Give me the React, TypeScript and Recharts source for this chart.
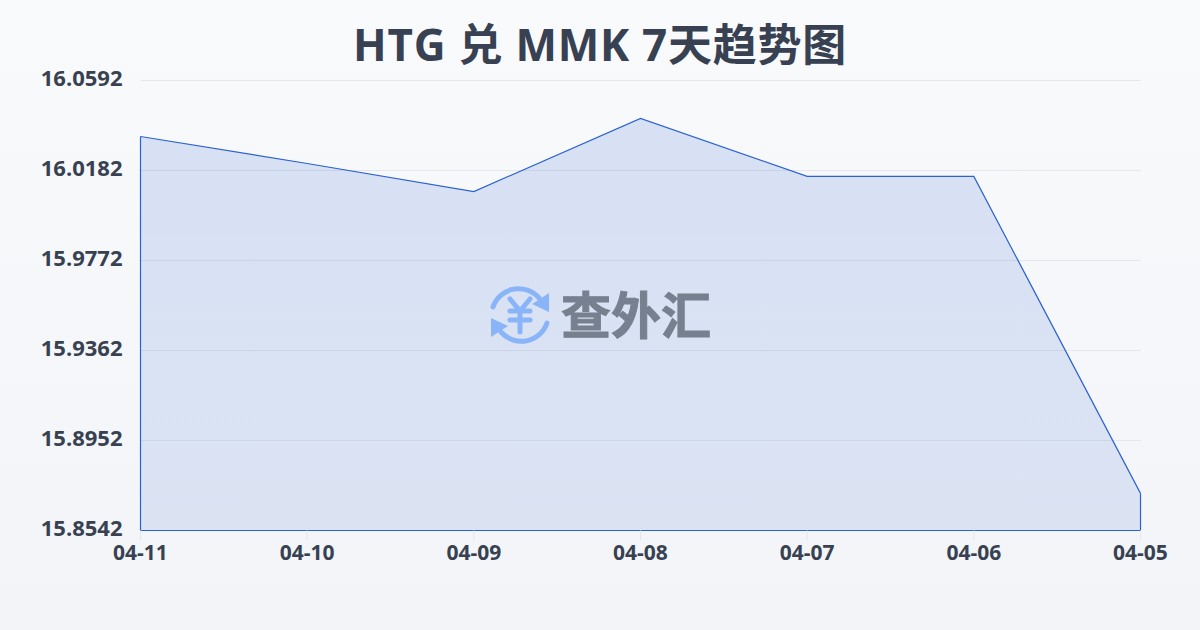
import { AreaChart, Area, XAxis, YAxis, CartesianGrid, ReferenceLine } from "recharts";

const dates = ["04-11", "04-10", "04-09", "04-08", "04-07", "04-06", "04-05"];
const rates = [16.0337, 16.0214, 16.0086, 16.0419, 16.0155, 16.0155, 15.8711];
const yTicks = [15.8542, 15.8952, 15.9362, 15.9772, 16.0182, 16.0592];

const FONT = "'Open Sans', 'Noto Sans CJK SC', sans-serif";
const BLUE = "#2c62d0";
const INK = "#374151";

const data = dates.map((date, i) => ({ date, rate: rates[i] }));

function Watermark() {
  return (
    <svg width={1200} height={630} style={{ position: "absolute", left: 0, top: 0 }}>
      <g fill="none" stroke="#8ab4f8" strokeWidth={5} strokeLinecap="round" strokeLinejoin="round">
        <path d="M493 307 A27 27 0 0 1 539 298" />
        <path d="M547 323 A27 27 0 0 1 501 332" />
        <path d="M510 299 L520 311 L530 299 M510 311 H530 M510 320 H530 M520 311 V332" />
      </g>
      <path d="M549 293 L549 312 L532 304 Z M491 337 L491 318 L508 326 Z" fill="#8ab4f8" />
      <text
        x={561}
        y={334}
        fontFamily="'Noto Sans CJK SC'"
        fontWeight={700}
        fontSize={50}
        fill="#76808f"
        stroke="#76808f"
        strokeWidth={1}
      >
        查外汇
      </text>
    </svg>
  );
}

export default function App() {
  return (
    <div
      style={{
        position: "absolute",
        left: 0,
        top: 0,
        width: 1200,
        height: 630,
        overflow: "hidden",
        background: "linear-gradient(180deg, #f9fafc 0%, #f2f4f7 100%)",
        fontFamily: FONT,
      }}
    >
      <div
        style={{
          position: "absolute",
          left: 0,
          top: 13,
          width: 1200,
          textAlign: "center",
          fontSize: 44,
          lineHeight: "62px",
          letterSpacing: 0.75,
          fontWeight: 700,
          color: INK,
        }}
      >
        HTG 兑 MMK 7天趋势图
      </div>
      <AreaChart
        width={1200}
        height={630}
        data={data}
        margin={{ top: 80.5, right: 59.5, bottom: 0, left: 0 }}
        style={{ position: "absolute", left: 0, top: 0 }}
      >
        <defs>
          <linearGradient id="rateFill" x1="0" y1="0" x2="0" y2="1">
            <stop offset="0%" stopColor={BLUE} stopOpacity={0.16} />
            <stop offset="100%" stopColor={BLUE} stopOpacity={0.12} />
          </linearGradient>
        </defs>
        <CartesianGrid horizontal vertical={false} stroke="#e5e7eb" strokeWidth={1} />
        <XAxis
          dataKey="date"
          height={99.5}
          interval={0}
          axisLine={false}
          tickSize={10}
          tickMargin={5}
          tickLine={{ stroke: "#e5e7eb" }}
          tick={{ fill: INK, fontSize: 21, fontWeight: 700, fontFamily: FONT }}
        />
        <YAxis
          width={140.5}
          domain={[15.8542, 16.0592]}
          ticks={yTicks}
          interval={0}
          axisLine={false}
          tickLine={false}
          tickMargin={12}
          tick={{ fill: INK, fontSize: 22, fontWeight: 700, fontFamily: FONT, dy: -2 }}
          tickFormatter={(v: number) => v.toFixed(4)}
        />
        <Area
          type="linear"
          dataKey="rate"
          stroke={BLUE}
          strokeWidth={1.2}
          fill="url(#rateFill)"
          fillOpacity={1}
          isAnimationActive={false}
          dot={false}
          activeDot={false}
        />
        <ReferenceLine y={15.8542} stroke={BLUE} strokeWidth={1.2} />
        <ReferenceLine stroke={BLUE} strokeWidth={1.2} segment={[{ x: "04-11", y: 15.8542 }, { x: "04-11", y: rates[0] }]} />
        <ReferenceLine stroke={BLUE} strokeWidth={1.2} segment={[{ x: "04-05", y: 15.8542 }, { x: "04-05", y: rates[6] }]} />
      </AreaChart>
      <Watermark />
    </div>
  );
}
